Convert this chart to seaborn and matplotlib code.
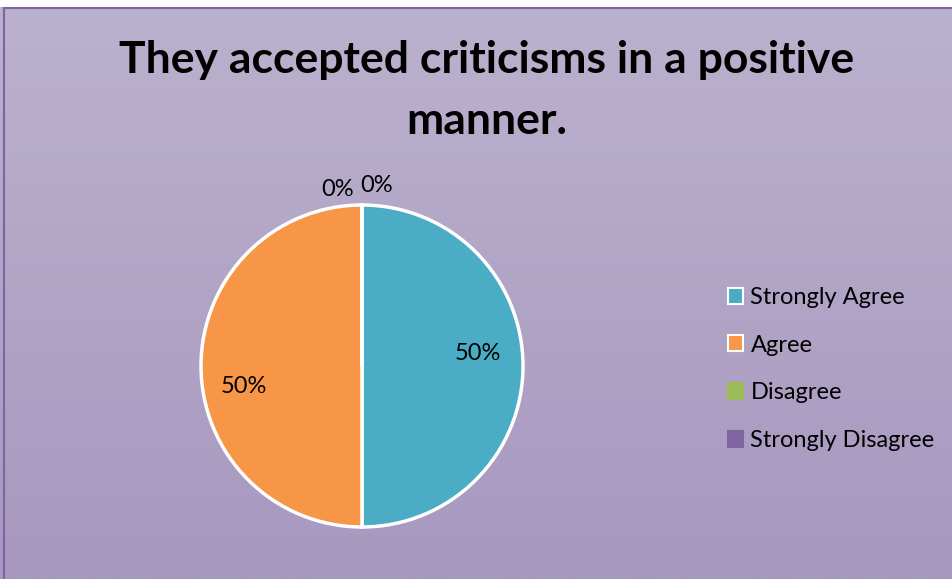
import numpy as np
import matplotlib
matplotlib.use("Agg")
import matplotlib.pyplot as plt
import matplotlib.patches as mpatches
import seaborn as sns

# data
categories = ["Strongly Agree", "Agree", "Disagree", "Strongly Disagree"]
shares = [50, 50, 0, 0]
colors = ["#4BACC6", "#F79646", "#9BBB59", "#8064A2"]
title_lines = ["They accepted criticisms in a positive", "manner."]

sns.set_theme(style="white")
plt.rcParams["font.family"] = ["Lato", "DejaVu Sans"]

W, H = 953, 579
fig = plt.figure(figsize=(W / 100, H / 100), dpi=100)

# gradient background
bg = fig.add_axes([0, 0, 1, 1], zorder=0)
top = np.array([187, 178, 206]) / 255
bot = np.array([167, 152, 191]) / 255
t = np.linspace(0, 1, 256)[:, None]
grad = top[None, :] * (1 - t) + bot[None, :] * t
bg.imshow(grad[:, None, :], aspect="auto", extent=[0, W, 0, H], origin="upper")
bg.set_xlim(0, W)
bg.set_ylim(0, H)
# white strip at top and border
bg.add_patch(mpatches.Rectangle((0, H - 7), W, 7, color="white", lw=0))
bg.plot([4, 4], [0, H - 7.5], color="#8064A2", lw=1.5)
bg.plot([4, W], [H - 7.5, H - 7.5], color="#8064A2", lw=1.5)
bg.axis("off")

for line, base in zip(title_lines, [73, 134]):
    fig.text(487, H - base, line, transform=None, ha="center", va="baseline",
             fontsize=32, fontweight="bold", color="black")

# pie
cx, cy, r = 362, H - 366, 161
ax = fig.add_axes([(cx - r) / W, (cy - r) / H, 2 * r / W, 2 * r / H], zorder=1)
wedges, _ = ax.pie(shares, colors=colors, startangle=90, counterclock=False,
                   wedgeprops=dict(edgecolor="white", linewidth=2.5))
ax.set_xlim(-1, 1)
ax.set_ylim(-1, 1)
ax.set_aspect("equal")
ax.axis("off")

# data labels
label_pos = [(0.72, 0.08), (-0.735, -0.13), (-0.15, 1.095), (0.09, 1.12)]
total = sum(shares)
for val, (lx, ly) in zip(shares, label_pos):
    ax.text(lx, ly, f"{val / total * 100:.0f}%", ha="center", va="center",
            fontsize=17, color="black", clip_on=False)

# legend
handles = []
for i, (c, lab) in enumerate(zip(colors, categories)):
    ec = "white" if shares[i] > 0 else c
    handles.append(mpatches.Patch(facecolor=c, edgecolor=ec, linewidth=1.5, label=lab))
fig.legend(handles=handles, loc="center left", bbox_to_anchor=(728 / W, (H - 369) / H),
           frameon=False, fontsize=17, handlelength=0.65, handleheight=0.65,
           handletextpad=0.3, labelspacing=1.13, borderaxespad=0, borderpad=0,
           labelcolor="black")

fig.savefig("out.png", dpi=100)
